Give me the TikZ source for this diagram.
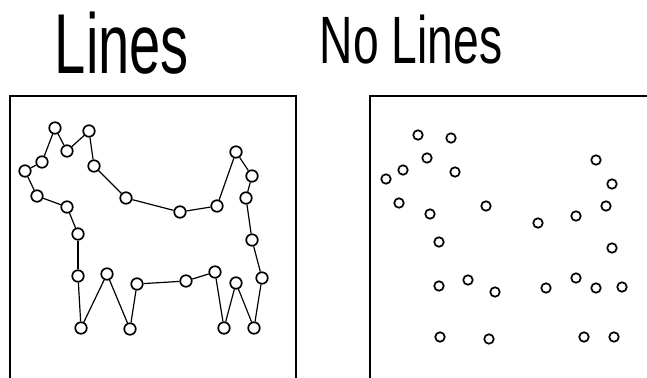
\documentclass[tikz,border=0pt]{standalone}
\usepackage{fontspec}
\setmainfont{Liberation Sans}
\usetikzlibrary{positioning}
\tikzset{
  pt/.style={circle,draw,line width=1.7pt,inner sep=0pt,minimum size=11.5pt},
  npt/.style={circle,draw,line width=1.7pt,inner sep=0pt,minimum width=8.5pt,minimum height=9.5pt},
  outline/.style={line width=1.2pt},
  frame/.style={line width=1.5pt},
  title/.style={inner sep=0pt,anchor=base}
}

\begin{document}
\begin{tikzpicture}[x=1pt,y=-1pt]
\useasboundingbox (0,0) rectangle (647,377);
% titles
\node[title] (tl) at (122,74) {\scalebox{0.66}[1]{\fontsize{85}{85}\selectfont Lines}};
\node[title] (tr) at (411,64) {\scalebox{0.69}[1]{\fontsize{67}{67}\selectfont No Lines}};
% frames, open at the bottom
\draw[frame] (10,380) -- (10,96) -- (296,96) -- (296,380);
\draw[frame] (370,380) -- (370,96) -- (650,96);
% dog outline
\foreach \x/\y [count=\i] in {55/128,67/151,89/131,94/166,126/198,180/212,217/206,236/152,252/176,
  246/198,252/240,262/278,254/328,236/283,224/328,215/272,186/281,137/284,130/329,107/274,
  81/328,78/276,78/234,67/207,37/196,25/171,42/162}
  \node[pt] (d\i) at (\x,\y) {};
\foreach \a/\b in {1/2,2/3,3/4,4/5,5/6,6/7,7/8,8/9,9/10,10/11,11/12,12/13,13/14,14/15,15/16,
  16/17,17/18,18/19,19/20,20/21,21/22,22/23,23/24,24/25,25/26,26/27,27/1}
  \draw[outline] (d\a) -- (d\b);
% same points, scattered, no lines
\foreach \x/\y [count=\i] in {418/135,451/138,427/158,403/170,386/179,455/172,399/203,430/214,
  486/206,538/223,576/216,596/160,612/184,606/206,612/248,439/242,439/286,468/280,495/292,
  546/288,576/278,596/288,622/287,440/337,489/339,584/337,614/337}
  \node[npt] (p\i) at (\x,\y) {};
\end{tikzpicture}
\end{document}
